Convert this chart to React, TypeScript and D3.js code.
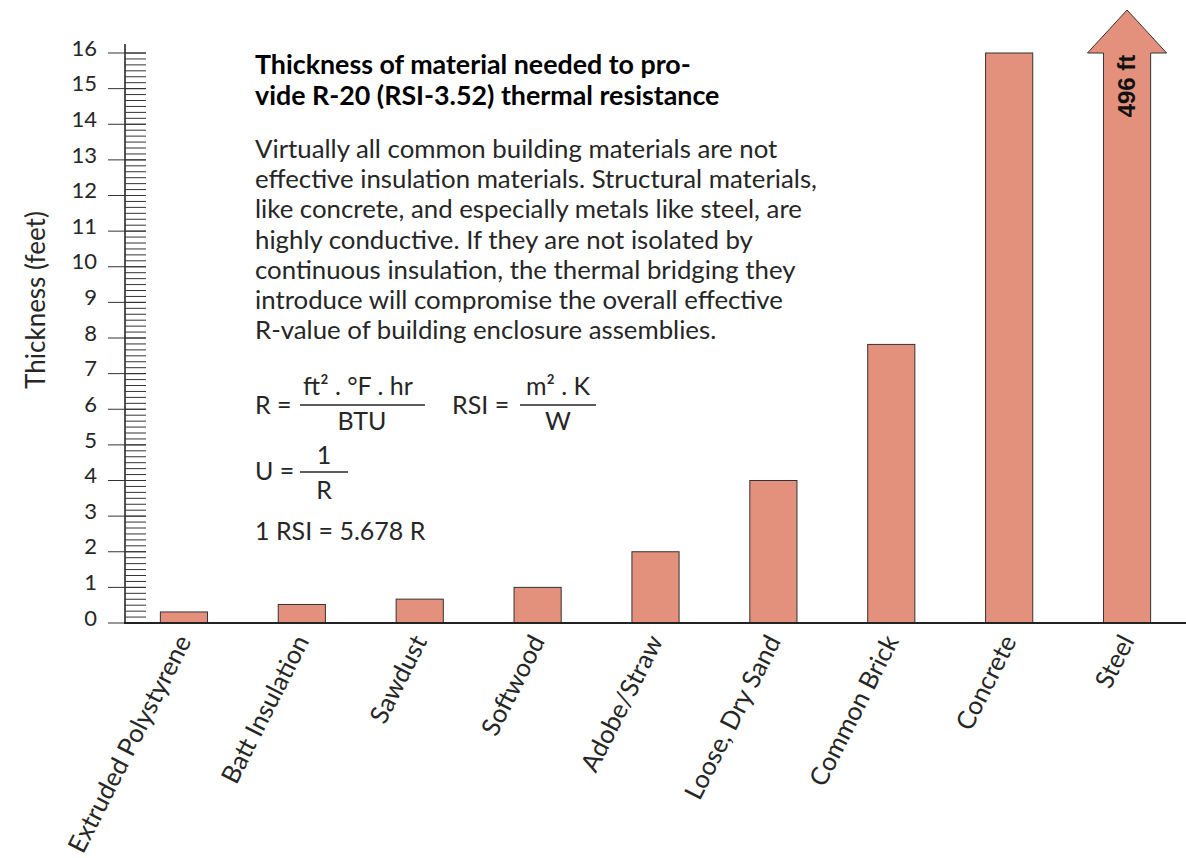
import * as d3 from "d3";

const WIDTH = 1186;
const HEIGHT = 858;

const categories = [
  "Extruded Polystyrene",
  "Batt Insulation",
  "Sawdust",
  "Softwood",
  "Adobe/Straw",
  "Loose, Dry Sand",
  "Common Brick",
  "Concrete",
  "Steel",
];
// feet of material for R-20
const thickness = [0.31, 0.52, 0.67, 1.0, 2.0, 4.0, 7.82, 16.0, 496];
const yTicks = [0, 1, 2, 3, 4, 5, 6, 7, 8, 9, 10, 11, 12, 13, 14, 15, 16];
const MINOR_PER_UNIT = 6;

const titleLines = [
  "Thickness of material needed to pro-",
  "vide R-20 (RSI-3.52) thermal resistance",
];
const bodyLines = [
  "Virtually all common building materials are not",
  "effective insulation materials. Structural materials,",
  "like concrete, and especially metals like steel, are",
  "highly conductive. If they are not isolated by",
  "continuous insulation, the thermal bridging they",
  "introduce will compromise the overall effective",
  "R-value of building enclosure assemblies.",
];

const FONT = "Lato, 'Noto Sans', sans-serif";
const BAR_FILL = "#e3917c";
const INK = "#1a1a1a";
const TEXT = "#262626";

export default function App() {
  const x = d3
    .scaleBand()
    .domain(categories)
    .range([125, 1186])
    .paddingInner(0.6)
    .paddingOuter(0.3);
  const yMax = 16;
  const y = d3.scaleLinear().domain([0, yMax]).range([623, 53]);

  const minor = d3.range(0, yMax * MINOR_PER_UNIT + 1).map((i) => i / MINOR_PER_UNIT);

  const bars = categories.map((c, i) => {
    const v = thickness[i];
    const bx = x(c) as number;
    const bw = x.bandwidth();
    if (v > yMax) {
      // off the scale: draw as an arrow
      const top = y(yMax);
      const tip = top - 43;
      const oh = 16;
      const d = `M${bx},${y(0)} L${bx},${top} L${bx - oh},${top} L${bx + bw / 2},${tip} L${bx + bw + oh},${top} L${bx + bw},${top} L${bx + bw},${y(0)} Z`;
      return (
        <g key={c}>
          <path d={d} fill={BAR_FILL} stroke="#333" strokeWidth={1} />
          <text
            transform={`translate(${bx + bw / 2 + 8},${top + 33}) rotate(-90)`}
            textAnchor="middle"
            fontFamily="'Liberation Sans', Arial, sans-serif"
            fontWeight="bold"
            fontSize={24}
            fill="#111"
          >
            {`${v} ft`}
          </text>
        </g>
      );
    }
    return (
      <rect
        key={c}
        x={bx}
        y={y(v)}
        width={bw}
        height={y(0) - y(v)}
        fill={BAR_FILL}
        stroke="#333"
        strokeWidth={1}
      />
    );
  });

  return (
    <svg
      width={WIDTH}
      height={HEIGHT}
      style={{ position: "absolute", left: 0, top: 0, background: "#fff" }}
      fontFamily={FONT}
    >
      {/* Y axis */}
      <line x1={125} x2={125} y1={y(16.25)} y2={y(0)} stroke={INK} strokeWidth={1.5} />
      {minor.map((m) => (
        <line key={m} x1={125} x2={146} y1={y(m)} y2={y(m)} stroke="#333" strokeWidth={1} />
      ))}
      {yTicks.map((t) => (
        <g key={t} transform={`translate(0,${y(t)})`}>
          <line x1={108} x2={146} stroke="#333" strokeWidth={1} />
          <text x={97} y={-5} dy="0.35em" textAnchor="end" fontSize={22} fill={TEXT}>
            {t}
          </text>
        </g>
      ))}
      <text
        transform="translate(45,300) rotate(-90)"
        textAnchor="middle"
        fontSize={26}
        fill={TEXT}
      >
        Thickness (feet)
      </text>

      {bars}

      {/* baseline */}
      <line x1={124} x2={WIDTH} y1={y(0)} y2={y(0)} stroke="#222" strokeWidth={2} />

      {/* category labels */}
      {categories.map((c) => (
        <text
          key={c}
          transform={`translate(${(x(c) as number) + x.bandwidth() / 2 + 8},641) rotate(-63)`}
          textAnchor="end"
          fontSize={25.5}
          fill={TEXT}
        >
          {c}
        </text>
      ))}

      {/* title and note */}
      {titleLines.map((l, i) => (
        <text key={l} x={255} y={74 + i * 31} fontSize={26.8} fontWeight="bold" fill="#000">
          {l}
        </text>
      ))}
      {bodyLines.map((l, i) => (
        <text key={l} x={255} y={158 + i * 30.2} fontSize={25.8} fill={TEXT}>
          {l}
        </text>
      ))}

      {/* formulas */}
      <g fontSize={25} fill={TEXT}>
        <text x={255} y={414}>R =</text>
        <text x={358} y={395} textAnchor="middle">ft² . °F . hr</text>
        <line x1={300} x2={425} y1={405} y2={405} stroke={TEXT} strokeWidth={1.3} />
        <text x={362} y={430} textAnchor="middle">BTU</text>

        <text x={452} y={414}>RSI =</text>
        <text x={558} y={395} textAnchor="middle">m² . K</text>
        <line x1={520} x2={596} y1={405} y2={405} stroke={TEXT} strokeWidth={1.3} />
        <text x={558} y={430} textAnchor="middle">W</text>

        <text x={255} y={480}>U =</text>
        <text x={324} y={464} textAnchor="middle">1</text>
        <line x1={300} x2={348} y1={472} y2={472} stroke={TEXT} strokeWidth={1.3} />
        <text x={324} y={499} textAnchor="middle">R</text>

        <text x={255} y={540}>1 RSI = 5.678 R</text>
      </g>
    </svg>
  );
}
